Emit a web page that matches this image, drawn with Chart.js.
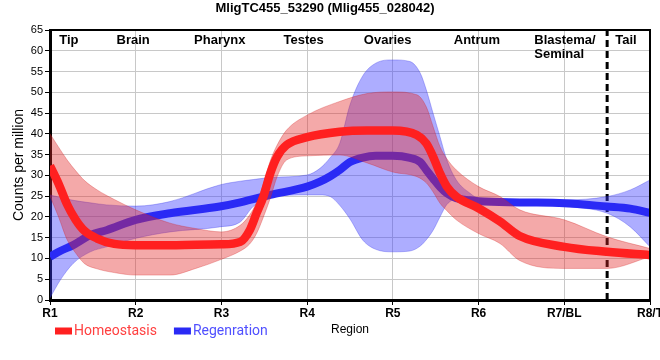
<!DOCTYPE html>
<html>
<head>
<meta charset="utf-8">
<script src="https://cdn.jsdelivr.net/npm/chart.js@4.4.0/dist/chart.umd.min.js"></script>
<style>
  html, body { margin: 0; padding: 0; background: #fff; }
  canvas { display: block; }
</style>
</head>
<body>
<canvas id="c" width="660" height="360"></canvas>
<script>
// ---- data ----
const chartTitle = 'MligTC455_53290 (Mlig455_028042)';
const regionTicks = ['R1', 'R2', 'R3', 'R4', 'R5', 'R6', 'R7/BL', 'R8/T'];
const regionNames = ['Tip', 'Brain', 'Pharynx', 'Testes', 'Ovaries', 'Antrum', ['Blastema/', 'Seminal'], 'Tail'];
const regionAnchors = [0.22, 0.97, 1.98, 2.96, 3.94, 4.98, 5.65, 6.72];
const regionAlign = ['center', 'center', 'center', 'center', 'center', 'center', 'left', 'center'];
const tailBoundary = 6.5;

// Homeostasis: smoothed mean with its confidence band
const homeoX   = [0, 0.1, 0.2, 0.3, 0.4, 0.55, 0.75, 1, 1.4, 1.7, 2, 2.22, 2.33, 2.41, 2.49, 2.57, 2.65, 2.76, 3, 3.38, 3.7, 4, 4.28, 4.39, 4.47, 4.55, 4.63, 4.74, 5, 5.25, 5.48, 6, 6.5, 7];
const homeoMid = [32.3, 28, 23, 19.3, 16.7, 14.8, 13.5, 13.2, 13.2, 13.3, 13.4, 14, 16.8, 20.9, 24.9, 30.5, 34.5, 37.3, 39.2, 40.5, 40.8, 40.8, 39.7, 37.7, 34.5, 30.5, 27.3, 24.9, 22.1, 18.9, 15.4, 12.8, 11.6, 10.8];
const homeoHi  = [40, 36.8, 33.7, 31.1, 28.8, 26.5, 24.2, 21.7, 18.5, 17.2, 16.4, 18, 20.5, 23.5, 28, 33.5, 37.3, 40.9, 44.5, 47.8, 49.7, 50.1, 49.4, 46.5, 41.7, 36.9, 34, 31.3, 27.3, 24.9, 21.7, 19.3, 15.2, 12.4];
const homeoLo  = [25, 20, 14.5, 11.3, 8.8, 7.5, 6.6, 6, 6, 7.6, 9.8, 11.8, 13.5, 16, 20, 24.5, 29.7, 33.7, 34.7, 34.9, 33, 30.8, 29.7, 28.2, 26, 23.3, 21.5, 19.3, 16, 13.6, 9.5, 7.6, 7.6, 10.4];

// Regeneration: smoothed mean with its confidence band
const regenX   = [0, 0.12, 0.27, 0.47, 0.66, 1, 1.4, 1.98, 2.22, 2.37, 2.49, 2.57, 3, 3.15, 3.27, 3.38, 3.5, 3.65, 3.8, 4, 4.2, 4.32, 4.39, 4.47, 4.55, 4.63, 4.74, 4.9, 5, 5.48, 6, 6.5, 6.77, 7];
const regenMid = [10.4, 11.8, 13.2, 15.6, 16.8, 19.3, 20.9, 22.5, 23.5, 24.3, 24.9, 25.3, 27.3, 28.5, 29.8, 31.3, 33.2, 34.3, 34.7, 34.7, 34.2, 33.2, 31.3, 29.2, 27.2, 25.7, 24.5, 24, 23.8, 23.5, 23.3, 22.5, 22, 21];
const regenHi  = [25.3, 24.7, 24, 23.4, 22.9, 22.6, 23.7, 27.7, 28.6, 29, 29.3, 29.5, 30.1, 31.7, 34.3, 37.7, 47, 54, 57, 57.8, 57.4, 54.6, 50.6, 44.9, 39.3, 33.7, 28.9, 25.7, 24.5, 24.2, 24.1, 24.9, 26.5, 28.9];
const regenLo  = [0.5, 4.8, 8.8, 11.6, 12.8, 14.85, 16.4, 17.6, 18.8, 22.5, 24, 24.9, 25.3, 25.3, 24.9, 22.8, 19.5, 14.4, 12.2, 11.6, 11.8, 13, 14.5, 16.8, 20, 23, 24.2, 23.6, 23.3, 23, 22.5, 20.9, 17.6, 12.8];

// ---- helpers ----
const pts = (xs, ys) => xs.map((x, i) => ({ x: x, y: ys[i] }));

const RED = 'rgb(255,32,32)';
const RED_BAND = 'rgba(228,40,40,0.40)';
const RED_EDGE = 'rgba(210,30,30,0.30)';
const BLUE = 'rgb(42,42,245)';
const BLUE_BAND = 'rgba(60,60,255,0.42)';
const BLUE_EDGE = 'rgba(40,40,230,0.30)';

const lineCommon = { pointRadius: 0, cubicInterpolationMode: 'monotone', fill: false };

const datasets = [
  // 0 red line
  Object.assign({ label: 'Homeostasis', legend: true, legendText: 'rgb(255,64,64)',
    data: pts(homeoX, homeoMid), borderColor: RED, backgroundColor: RED, borderWidth: 8.5, order: 0 }, lineCommon),
  // 1 red upper (fills to 2)
  Object.assign({ label: 'hHi', data: pts(homeoX, homeoHi), borderColor: RED_EDGE, borderWidth: 1, order: 1 }, lineCommon, { fill: { target: 2 }, backgroundColor: RED_BAND }),
  // 2 red lower
  Object.assign({ label: 'hLo', data: pts(homeoX, homeoLo), borderColor: RED_EDGE, borderWidth: 1, order: 1 }, lineCommon),
  // 3 blue line
  Object.assign({ label: 'Regenration', legend: true, legendText: 'rgb(80,80,255)',
    data: pts(regenX, regenMid), borderColor: BLUE, backgroundColor: BLUE, borderWidth: 8, order: 2 }, lineCommon),
  // 4 blue upper (fills to 5)
  Object.assign({ label: 'rHi', data: pts(regenX, regenHi), borderColor: BLUE_EDGE, borderWidth: 1, order: 3 }, lineCommon, { fill: { target: 5 }, backgroundColor: BLUE_BAND }),
  // 5 blue lower
  Object.assign({ label: 'rLo', data: pts(regenX, regenLo), borderColor: BLUE_EDGE, borderWidth: 1, order: 3 }, lineCommon),
  // 6 tail boundary (dashed)
  { label: 'boundary', data: [{ x: tailBoundary, y: 0 }, { x: tailBoundary, y: 65 }], borderColor: '#000', borderWidth: 3,
    borderDash: [7, 4], pointRadius: 0, fill: false, order: 4 }
];

// ---- custom drawing: frame, region names, legend ----
const extras = {
  id: 'extras',
  afterDraw(chart) {
    const { ctx, chartArea: a, scales } = chart;
    ctx.save();
    // top & right frame
    ctx.strokeStyle = '#000';
    ctx.lineWidth = 2;
    ctx.beginPath();
    ctx.moveTo(a.left, a.top);
    ctx.lineTo(a.right, a.top);
    ctx.lineTo(a.right, a.bottom);
    ctx.stroke();
    // region names
    ctx.fillStyle = '#000';
    ctx.font = 'bold 13px "Liberation Sans", Arial, sans-serif';
    ctx.textBaseline = 'middle';
    regionNames.forEach((name, i) => {
      const x = scales.x.getPixelForValue(regionAnchors[i]);
      ctx.textAlign = regionAlign[i];
      const lines = Array.isArray(name) ? name : [name];
      lines.forEach((t, j) => ctx.fillText(t, x, a.top + 10 + j * 14));
    });
    // legend
    ctx.font = '14px Roboto, "Liberation Sans", sans-serif';
    ctx.textAlign = 'left';
    let lx = a.left + 5;
    const ly = 331;
    chart.data.datasets.filter(d => d.legend).forEach(d => {
      ctx.fillStyle = d.borderColor;
      ctx.fillRect(lx, ly - 3.5, 17, 7);
      ctx.fillStyle = d.legendText;
      ctx.fillText(d.label, lx + 19, ly);
      lx += 19 + ctx.measureText(d.label).width + 17;
    });
    ctx.restore();
  }
};

new Chart(document.getElementById('c'), {
  type: 'line',
  data: { datasets: datasets },
  options: {
    responsive: false,
    animation: false,
    devicePixelRatio: 1,
    layout: { padding: { left: 0, right: 10, top: 0, bottom: 0 } },
    plugins: {
      legend: { display: false },
      tooltip: { enabled: false },
      title: {
        display: true,
        text: chartTitle,
        color: '#000',
        font: { family: '"Liberation Sans", Arial, sans-serif', size: 13, weight: 'bold' },
        padding: { top: 1, bottom: 13.4 }
      }
    },
    scales: {
      x: {
        type: 'linear',
        min: 0, max: 7,
        grid: { color: '#c8c8c8', lineWidth: 1, tickColor: '#000', tickLength: 5 },
        border: { color: '#000', width: 3 },
        ticks: {
          stepSize: 1, autoSkip: false, maxRotation: 0, padding: 1, color: '#000',
          font: { family: '"Liberation Sans", Arial, sans-serif', size: 12, weight: 'bold' },
          callback: (v) => regionTicks[v] !== undefined ? regionTicks[v] : ''
        },
        title: {
          display: true, text: 'Region', color: '#000',
          font: { family: '"Liberation Sans", Arial, sans-serif', size: 12 },
          padding: { top: 0, bottom: 22.8 }
        },
        afterFit(scale) { scale.height = 60; scale.paddingLeft = 0; scale.paddingRight = 0; }
      },
      y: {
        type: 'linear',
        min: 0, max: 65,
        grid: { color: '#c8c8c8', lineWidth: 1, tickColor: '#000', tickLength: 5 },
        border: { color: '#000', width: 3 },
        ticks: {
          stepSize: 5, padding: 2, color: '#000',
          font: { family: '"Liberation Sans", Arial, sans-serif', size: 11 }
        },
        title: {
          display: true, text: 'Counts per million', color: '#000',
          font: { family: '"Liberation Sans", Arial, sans-serif', size: 14 },
          padding: { top: 11, bottom: 0 }
        },
        afterFit(scale) { scale.width = 50; scale.paddingTop = 0; scale.paddingBottom = 0; }
      }
    }
  },
  plugins: [extras]
});
</script>
</body>
</html>
